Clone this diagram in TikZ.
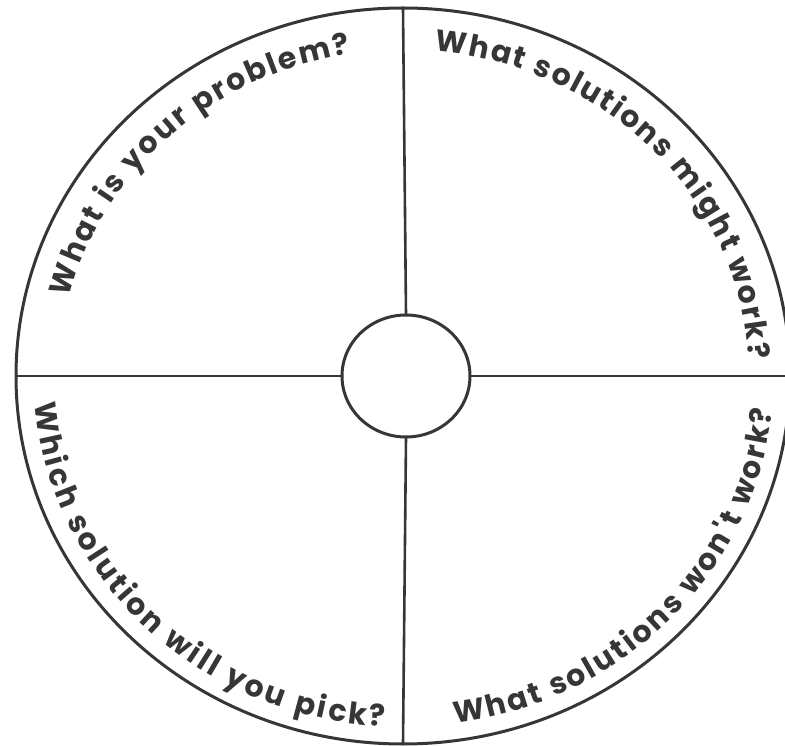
\documentclass[tikz,border=0pt]{standalone}
\usepackage{fontspec}
\newfontfamily\qfont{Poppins}
\usetikzlibrary{shapes.geometric,decorations.text}
\definecolor{ink}{HTML}{363636}
\begin{document}
\begin{tikzpicture}[x=1pt, y=1pt, line join=round, line cap=round,
	rim/.style={ellipse, draw=ink, line width=3pt, inner sep=0pt, outer sep=0pt},
	spoke/.style={draw=ink, line width=2.6pt},
	ask/.style={decorate, decoration={text along path, text align={fit to path}, text color=ink,
		text={|\qfont\bfseries\fontsize{30}{30}\selectfont|#1}}}]
	\useasboundingbox (0,0) rectangle (785,745);
	\clip (0,0) rectangle (785,745);
	\coordinate (c) at (404,369);
	\node[rim, minimum width=774pt, minimum height=736pt] (outer) at (403,369) {};
	\node[rim, minimum width=128pt, minimum height=122pt] (hub) at (406,369) {};
	\draw[spoke] (outer.west) -- (hub.west);
	\draw[spoke] (hub.east) -- (outer.east);
	\draw[spoke] (outer.north) -- (hub.north);
	\draw[spoke] (hub.south) -- (outer.south);
	% questions round the rim
	\path[ask={What is your problem?}] (c) ++(166:345 and 326) arc[start angle=166, end angle=99, x radius=345, y radius=326];
	\path[ask={What solutions might work?}] (c) ++(85:345 and 326) arc[start angle=85, end angle=3, x radius=345, y radius=326];
	\path[ask={Which solution will you pick?}] (c) ++(184.5:370 and 351) arc[start angle=184.5, end angle=267, x radius=370, y radius=351];
	\path[ask={What solutions won't work?}] (c) ++(278:370 and 351) arc[start angle=278, end angle=354.5, x radius=370, y radius=351];
\end{tikzpicture}
\end{document}
